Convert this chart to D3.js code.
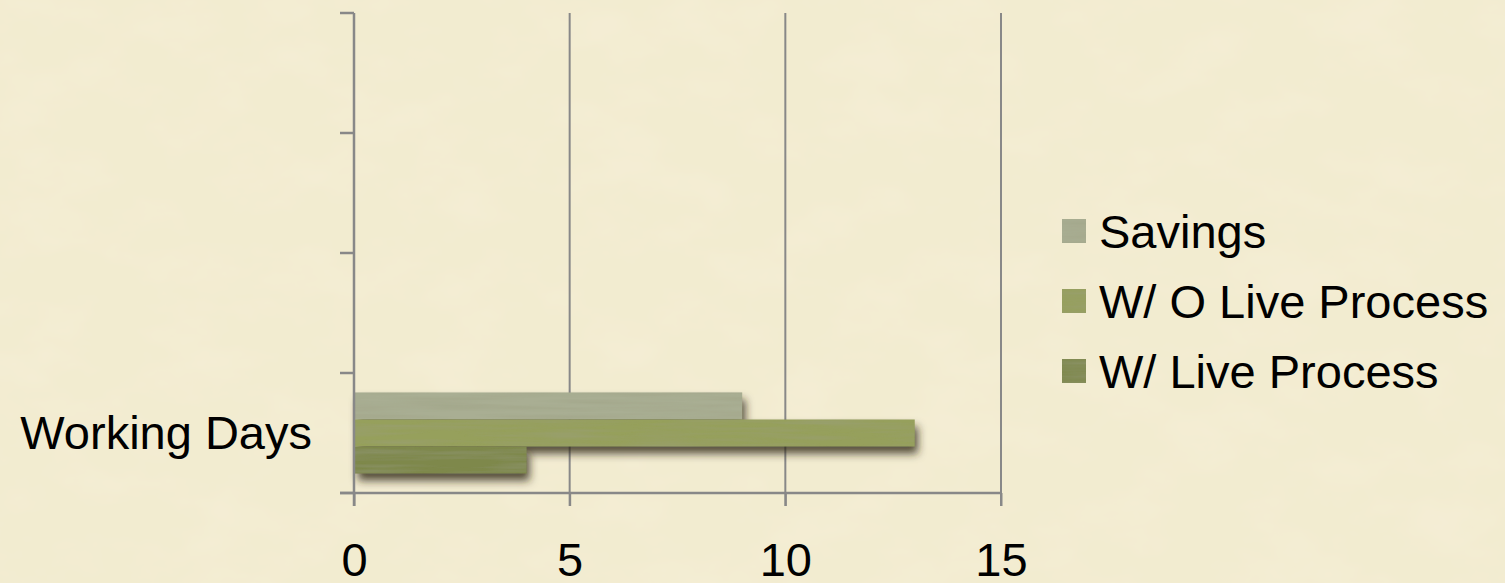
<!DOCTYPE html>
<html>
<head>
<meta charset="utf-8">
<script src="https://cdn.jsdelivr.net/npm/d3@7"></script>
<style>
  html, body { margin: 0; padding: 0; background: #f2ecd0; }
  svg { display: block; }
  text { font-family: "Liberation Sans", Arial, sans-serif; fill: #000; }
</style>
</head>
<body>
<svg id="chart"></svg>
<script>
// chart data
const categories = ["Working Days", "", "", ""];   // 4 category slots, only one used
const seriesNames = ["Savings", "W/ O Live Process", "W/ Live Process"];
const seriesValues = [9, 13, 4];                    // values for "Working Days"
const seriesColors = ["#a9ae93", "#96a05c", "#7e884c"];
const xTicks = [0, 5, 10, 15];

const W = 1505, H = 583;
const plotLeft = 354, plotRight = 1001, plotTop = 13, plotBottom = 493;

const svg = d3.select("#chart").attr("width", W).attr("height", H);
const defs = svg.append("defs");

// paper texture for the background
const paper = defs.append("filter").attr("id", "paper")
  .attr("x", 0).attr("y", 0).attr("width", "100%").attr("height", "100%");
paper.append("feTurbulence").attr("type", "fractalNoise")
  .attr("baseFrequency", "0.012 0.02").attr("numOctaves", 4).attr("seed", 7).attr("result", "n");
paper.append("feColorMatrix").attr("in", "n").attr("type", "matrix")
  .attr("values", "0 0 0 0 0.93  0 0 0 0 0.86  0 0 0 0 0.70  1.0 0 0 0 -0.42");

// bar texture
const tex = defs.append("filter").attr("id", "tex")
  .attr("x", 0).attr("y", 0).attr("width", "100%").attr("height", "100%");
tex.append("feTurbulence").attr("type", "fractalNoise")
  .attr("baseFrequency", "0.01 0.2").attr("numOctaves", 3).attr("seed", 3).attr("result", "n");
tex.append("feColorMatrix").attr("in", "n").attr("type", "matrix")
  .attr("values", "0 0 0 0 0.33  0 0 0 0 0.34  0 0 0 0 0.22  0.75 0 0 0 -0.27").attr("result", "n2");
tex.append("feComposite").attr("in", "n2").attr("in2", "SourceGraphic").attr("operator", "in").attr("result", "t");
const tm = tex.append("feMerge");
tm.append("feMergeNode").attr("in", "SourceGraphic");
tm.append("feMergeNode").attr("in", "t");

// drop shadow only
const sh = defs.append("filter").attr("id", "shadow")
  .attr("x", "-10%").attr("y", "-50%").attr("width", "130%").attr("height", "250%");
sh.append("feGaussianBlur").attr("in", "SourceAlpha").attr("stdDeviation", 4.5).attr("result", "b");
sh.append("feOffset").attr("in", "b").attr("dx", 3).attr("dy", 7).attr("result", "o");
sh.append("feFlood").attr("flood-color", "#2d2616").attr("flood-opacity", 0.8).attr("result", "f");
sh.append("feComposite").attr("in", "f").attr("in2", "o").attr("operator", "in");

// background
svg.append("rect").attr("width", W).attr("height", H).attr("fill", "#f2ecd0");
svg.append("rect").attr("width", W).attr("height", H).attr("filter", "url(#paper)");

// scales
const x = d3.scaleLinear().domain([0, 15]).range([plotLeft, plotRight]);
const y0 = d3.scaleBand().domain(d3.range(categories.length)).range([plotBottom, plotTop]);
const y1 = d3.scaleBand().domain(seriesNames).range([0, y0.bandwidth()]).paddingInner(0).paddingOuter(0.72);

const gridColor = "#888888";

// vertical gridlines (plus their tick marks below the axis)
svg.append("g").selectAll("line").data(xTicks.filter(d => d > 0)).join("line")
  .attr("x1", d => x(d)).attr("x2", d => x(d))
  .attr("y1", plotTop).attr("y2", plotBottom + 13)
  .attr("stroke", gridColor).attr("stroke-width", 2);

// bars
const rows = seriesNames.map((s, i) => ({ name: s, value: seriesValues[i], color: seriesColors[i], cat: 0 }));
const barG = svg.append("g");
barG.append("g").selectAll("rect").data(rows).join("rect")
  .attr("x", x(0) + 1)
  .attr("y", d => y0(d.cat) + y1(d.name))
  .attr("width", d => x(d.value) - x(0) - 1)
  .attr("height", y1.bandwidth())
  .attr("fill", "#000")
  .attr("filter", "url(#shadow)");
barG.append("g").selectAll("rect").data(rows).join("rect")
  .attr("x", x(0) + 1)
  .attr("y", d => y0(d.cat) + y1(d.name))
  .attr("width", d => x(d.value) - x(0) - 1)
  .attr("height", y1.bandwidth())
  .attr("fill", d => d.color)
  .attr("filter", "url(#tex)");

// x axis
const xAxis = svg.append("g").attr("transform", `translate(0,${plotBottom})`)
  .call(d3.axisBottom(x).tickValues(xTicks).tickSize(13).tickSizeOuter(0));
xAxis.select(".domain").remove();
xAxis.selectAll(".tick line").attr("stroke", gridColor).attr("stroke-width", 2);
xAxis.selectAll(".tick text").attr("y", 83).attr("dy", 0)
  .style("font-size", "47px").style("font-family", "Liberation Sans, Arial, sans-serif").attr("fill", "#000");
svg.append("line").attr("x1", x(0) - 14).attr("x2", x(15) + 1)
  .attr("y1", plotBottom).attr("y2", plotBottom).attr("stroke", gridColor).attr("stroke-width", 2.5);

// y axis line and category boundary ticks
svg.append("line").attr("x1", x(0)).attr("x2", x(0))
  .attr("y1", plotTop).attr("y2", plotBottom + 13).attr("stroke", gridColor).attr("stroke-width", 2.5);
svg.append("g").selectAll("line").data(d3.range(categories.length + 1)).join("line")
  .attr("x1", x(0) - 14).attr("x2", x(0))
  .attr("y1", i => plotBottom - i * y0.step()).attr("y2", i => plotBottom - i * y0.step())
  .attr("stroke", gridColor).attr("stroke-width", 2.5);

// category labels
const yAxis = svg.append("g").attr("transform", `translate(${x(0) - 42},0)`)
  .call(d3.axisLeft(y0).tickSize(0).tickFormat(i => categories[i]));
yAxis.select(".domain").remove();
yAxis.selectAll(".tick text").attr("x", 0).attr("dy", "0.34em")
  .style("font-size", "47px").style("font-family", "Liberation Sans, Arial, sans-serif").attr("fill", "#000");

// legend
const legend = svg.append("g").attr("transform", "translate(1062,231)");
const li = legend.selectAll("g").data(seriesNames).join("g")
  .attr("transform", (d, i) => `translate(0,${i * 70})`);
li.append("rect").attr("x", 0).attr("y", -12).attr("width", 24).attr("height", 24)
  .attr("fill", (d, i) => seriesColors[i]).attr("filter", "url(#tex)");
li.append("text").attr("x", 37).attr("y", 0).attr("dy", "0.36em")
  .style("font-size", "47px").text(d => d);
</script>
</body>
</html>
